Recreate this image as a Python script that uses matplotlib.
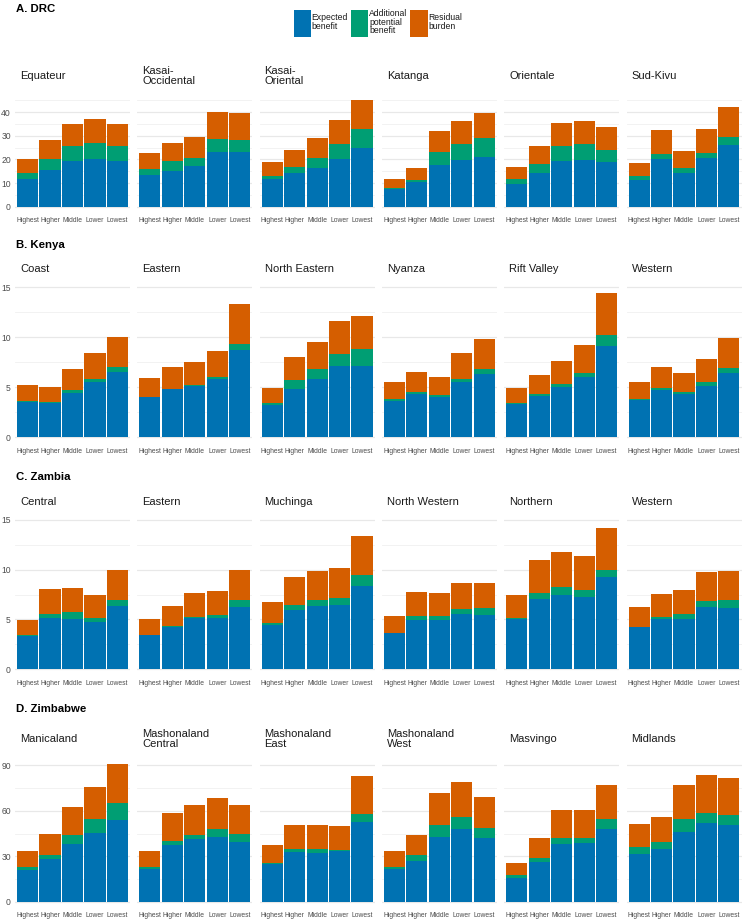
import matplotlib
matplotlib.use('Agg')
import matplotlib.pyplot as plt
import numpy as np

plt.rcParams['font.family'] = ['Liberation Sans', 'DejaVu Sans']

W, H = 743, 922
fig = plt.figure(figsize=(W / 100, H / 100), dpi=100)

quintiles = ['Highest', 'Higher', 'Middle', 'Lower', 'Lowest']
series_labels = ['Expected\nbenefit', 'Additional\npotential\nbenefit', 'Residual\nburden']
colors = ['#0072B2', '#009E73', '#D55E00']

# ---------------- A. DRC ----------------
drc_regions = ['Equateur', 'Kasai-\nOccidental', 'Kasai-\nOriental', 'Katanga', 'Orientale', 'Sud-Kivu']
drc_expected = [[11.6, 15.5, 19.2, 20.2, 19.2],
                [13.4, 15.3, 17.4, 23.3, 23.0],
                [11.6, 14.3, 16.4, 20.2, 24.9],
                [7.3, 10.3, 17.8, 19.8, 20.9],
                [9.8, 14.4, 19.2, 19.6, 18.9],
                [11.2, 20.2, 14.3, 20.8, 26.0]]
drc_additional = [[2.5, 4.7, 6.5, 6.7, 6.5],
                  [2.4, 3.9, 3.4, 5.3, 5.3],
                  [1.3, 2.4, 4.4, 6.4, 8.2],
                  [0.5, 1.1, 5.4, 6.9, 8.4],
                  [1.8, 3.8, 6.7, 6.8, 5.3],
                  [1.7, 2.3, 2.1, 1.8, 3.4]]
drc_residual = [[6.1, 8.1, 9.5, 10.1, 9.5],
                [7.0, 7.8, 8.9, 11.5, 11.3],
                [6.0, 7.2, 8.5, 10.0, 12.1],
                [3.8, 5.1, 8.7, 9.6, 10.4],
                [5.1, 7.5, 9.6, 9.8, 9.4],
                [5.8, 10.1, 7.3, 10.5, 13.0]]

# ---------------- B. Kenya ----------------
kenya_regions = ['Coast', 'Eastern', 'North Eastern', 'Nyanza', 'Rift Valley', 'Western']
kenya_expected = [[3.53, 3.40, 4.47, 5.57, 6.57],
                  [4.03, 4.80, 5.13, 5.80, 8.73],
                  [3.23, 4.87, 5.80, 7.13, 7.13],
                  [3.67, 4.30, 4.07, 5.50, 6.37],
                  [3.30, 4.17, 5.07, 6.07, 9.10],
                  [3.77, 4.70, 4.33, 5.13, 6.47]]
kenya_additional = [[0.14, 0.10, 0.26, 0.26, 0.46],
                    [0.04, 0.03, 0.07, 0.20, 0.60],
                    [0.20, 0.90, 1.07, 1.24, 1.74],
                    [0.13, 0.27, 0.16, 0.33, 0.46],
                    [0.10, 0.20, 0.23, 0.40, 1.10],
                    [0.06, 0.23, 0.17, 0.37, 0.50]]
kenya_residual = [[1.56, 1.57, 2.07, 2.57, 3.00],
                  [1.83, 2.17, 2.30, 2.60, 4.00],
                  [1.54, 2.23, 2.66, 3.30, 3.30],
                  [1.70, 2.00, 1.80, 2.57, 2.97],
                  [1.50, 1.86, 2.30, 2.80, 4.20],
                  [1.70, 2.14, 1.97, 2.33, 3.00]]

# ---------------- C. Zambia ----------------
zambia_regions = ['Central', 'Eastern', 'Muchinga', 'North Western', 'Northern', 'Western']
zambia_expected = [[3.30, 5.20, 5.08, 4.78, 6.38],
                   [3.40, 4.28, 5.18, 5.15, 6.29],
                   [4.45, 5.95, 6.35, 6.49, 8.33],
                   [3.61, 4.98, 4.98, 5.55, 5.42],
                   [5.05, 7.06, 7.46, 7.26, 9.23],
                   [4.21, 5.08, 5.08, 6.29, 6.19]]
zambia_additional = [[0.10, 0.37, 0.67, 0.42, 0.54],
                     [0.05, 0.10, 0.10, 0.27, 0.67],
                     [0.23, 0.47, 0.57, 0.63, 1.10],
                     [0.07, 0.37, 0.37, 0.47, 0.73],
                     [0.07, 0.57, 0.77, 0.70, 0.70],
                     [0.04, 0.17, 0.44, 0.57, 0.77]]
zambia_residual = [[1.55, 2.48, 2.40, 2.25, 3.01],
                   [1.63, 1.97, 2.38, 2.41, 2.97],
                   [2.11, 2.84, 2.98, 3.01, 3.91],
                   [1.70, 2.38, 2.34, 2.61, 2.54],
                   [2.37, 3.34, 3.51, 3.38, 4.28],
                   [2.00, 2.34, 2.41, 2.94, 2.91]]

# ---------------- D. Zimbabwe ----------------
zimbabwe_regions = ['Manicaland', 'Mashonaland\nCentral', 'Mashonaland\nEast',
                    'Mashonaland\nWest', 'Masvingo', 'Midlands']
zimbabwe_expected = [[20.9, 28.4, 38.1, 45.3, 54.1],
                     [21.8, 37.6, 41.6, 42.9, 39.4],
                     [24.9, 32.8, 32.4, 33.2, 52.6],
                     [21.6, 26.9, 42.7, 48.0, 42.3],
                     [15.8, 26.4, 38.3, 38.7, 47.8],
                     [31.7, 34.8, 46.2, 52.2, 50.6]]
zimbabwe_additional = [[2.0, 2.2, 5.9, 9.1, 10.8],
                       [0.9, 2.7, 2.4, 4.9, 5.3],
                       [0.6, 2.2, 2.4, 0.9, 5.5],
                       [1.3, 3.7, 8.1, 7.7, 6.3],
                       [1.6, 2.4, 4.0, 3.3, 6.6],
                       [4.4, 4.4, 8.6, 6.6, 6.6]]
zimbabwe_residual = [[10.3, 14.1, 18.3, 21.5, 25.8],
                     [10.8, 18.0, 19.8, 20.4, 18.9],
                     [11.9, 15.8, 15.8, 15.9, 25.1],
                     [10.6, 13.2, 20.7, 23.1, 20.3],
                     [8.4, 13.0, 18.5, 18.8, 22.6],
                     [15.4, 16.7, 22.0, 24.8, 24.2]]

rows = [
    dict(title='A. DRC', regions=drc_regions,
         data=(drc_expected, drc_additional, drc_residual),
         y0=206.7, s=2.36, lo=-2.0, hi=47.6, major=10, minor=5, ymax=40,
         strip_y=76, title_y=9),
    dict(title='B. Kenya', regions=kenya_regions,
         data=(kenya_expected, kenya_additional, kenya_residual),
         y0=437.3, s=10.0, lo=-0.45, hi=15.5, major=5, minor=2.5, ymax=15,
         strip_y=269, title_y=245),
    dict(title='C. Zambia', regions=zambia_regions,
         data=(zambia_expected, zambia_additional, zambia_residual),
         y0=669.3, s=9.96, lo=-0.45, hi=15.5, major=5, minor=2.5, ymax=15,
         strip_y=501.7, title_y=476.7),
    dict(title='D. Zimbabwe', regions=zimbabwe_regions,
         data=(zimbabwe_expected, zimbabwe_additional, zimbabwe_residual),
         y0=901.7, s=1.515, lo=-2.8, hi=94.5, major=30, minor=15, ymax=90,
         strip_y=739.2, title_y=709),
]

col_left0 = 15.0
col_step = 122.3
col_w = 115.0
x = np.arange(len(quintiles))
legend_handles = None

for row in rows:
    top_px = row['y0'] - row['hi'] * row['s']
    bot_px = row['y0'] - row['lo'] * row['s']
    fig.text(15.5 / W, 1 - row['title_y'] / H, row['title'], fontsize=8.2,
             fontweight='bold', ha='left', va='center', color='black')
    exp_, add_, res_ = row['data']
    for j, reg in enumerate(row['regions']):
        left = col_left0 + j * col_step
        ax = fig.add_axes([left / W, 1 - bot_px / H, col_w / W, (bot_px - top_px) / H])
        e = np.array(exp_[j]); a = np.array(add_[j]); r = np.array(res_[j])
        b1 = ax.bar(x, e, width=0.94, color=colors[0], linewidth=0)
        b2 = ax.bar(x, a, bottom=e, width=0.94, color=colors[1], linewidth=0)
        b3 = ax.bar(x, r, bottom=e + a, width=0.94, color=colors[2], linewidth=0)
        if legend_handles is None:
            legend_handles = [b1, b2, b3]
        ax.set_xlim(-0.56, 4.56)
        ax.set_ylim(row['lo'], row['hi'])
        ax.set_yticks(np.arange(0, row['ymax'] + 0.001, row['major']))
        ax.set_yticks(np.arange(row['minor'], row['hi'], row['major']), minor=True)
        ax.grid(which='major', axis='y', color='#E8E8E8', linewidth=0.9)
        ax.grid(which='minor', axis='y', color='#F0F0F0', linewidth=0.6)
        ax.set_axisbelow(True)
        for sp in ax.spines.values():
            sp.set_visible(False)
        ax.set_xticks(x)
        ax.set_xticklabels(quintiles, fontsize=4.9, color='#4D4D4D')
        ax.tick_params(axis='x', length=0, pad=4.2)
        ax.tick_params(axis='y', which='both', length=0, pad=3.0, labelsize=6.2, labelcolor='#4D4D4D')
        if j != 0:
            ax.set_yticklabels([])
        fig.text((left + 5.0) / W, 1 - row['strip_y'] / H, reg, fontsize=8,
                 ha='left', va='center', color='#1A1A1A', linespacing=1.0)

leg = fig.legend(legend_handles, series_labels, loc='center', ncol=3,
                 bbox_to_anchor=(378 / W, 1 - 23 / H), frameon=False,
                 fontsize=6.2, handlelength=2.0, handleheight=4.4,
                 handletextpad=0.1, columnspacing=0.35, borderpad=0)
for t in leg.get_texts():
    t.set_linespacing(0.95)
    t.set_color('#1A1A1A')

fig.savefig('out.png', dpi=100)
